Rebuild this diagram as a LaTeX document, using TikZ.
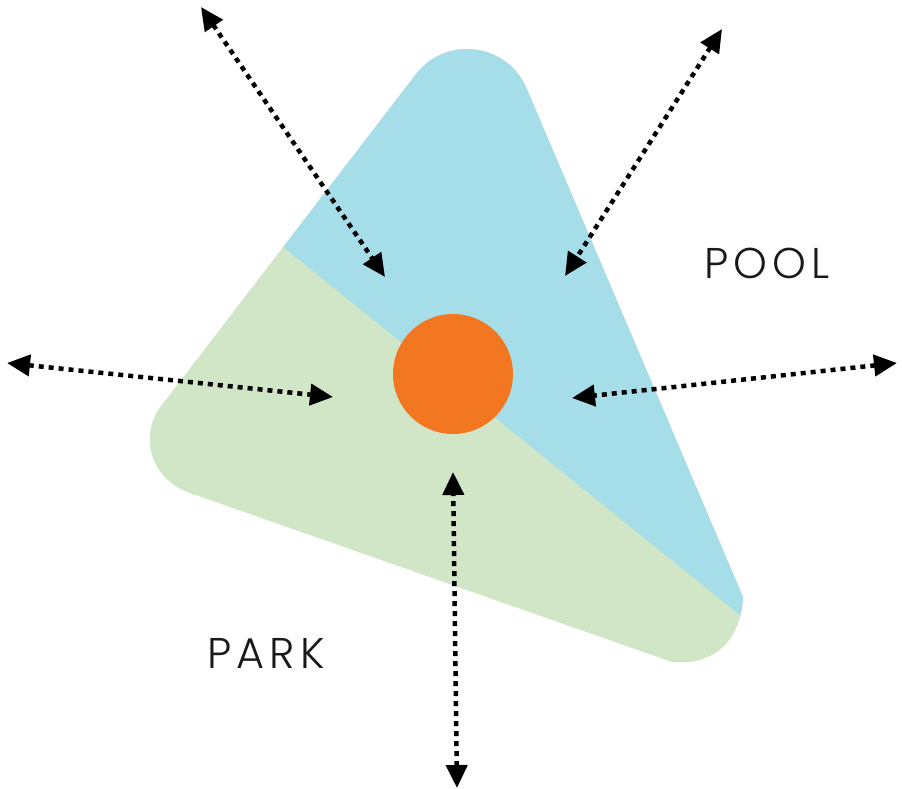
\documentclass[tikz,border=0pt]{standalone}
\usepackage{fontspec}
\newfontfamily\lblfont[LetterSpace=12]{Poppins Light}
\usetikzlibrary{arrows.meta}
\definecolor{poolblue}{RGB}{165,221,233}
\definecolor{parkgreen}{RGB}{208,230,199}
\definecolor{huborange}{RGB}{243,119,33}
\tikzset{
  linkarrow/.style={line width=4.5pt, dash pattern=on 5pt off 5pt,
    {Triangle[length=23pt,width=21pt]}-{Triangle[length=23pt,width=21pt]}},
  zonelabel/.style={font=\lblfont\fontsize{43}{43}\selectfont, anchor=base west, inner sep=0pt, text=black!90},
  hubstyle/.style={circle, fill=huborange, minimum size=120pt, inner sep=0pt},
}
\newcommand{\siteoutline}{(415.9,74.2) .. controls (446.0,35.1) and (507.0,42.8) .. (526.5,88.1)
  -- (743,597) .. controls (741,640) and (715,666) .. (672,662)
  -- (190,493) .. controls (152,480) and (140,440) .. (158,410) -- cycle}
\begin{document}
\begin{tikzpicture}[x=1pt,y=-1pt]
\useasboundingbox (0,0) rectangle (902,789);
\fill[parkgreen] \siteoutline;
\begin{scope}
  \clip \siteoutline;
  \fill[poolblue] (100,99.4) -- (900,744) -- (900,-50) -- (100,-50) -- cycle;
\end{scope}
\node[hubstyle] (hub) at (453,374) {};
\node[zonelabel] (pool) at (704,278) {POOL};
\node[zonelabel] (park) at (207,668) {PARK};
\coordinate (a1) at (201,7);   \coordinate (a2) at (385,277);
\coordinate (b1) at (722,29);  \coordinate (b2) at (565,276);
\coordinate (c1) at (7,363);   \coordinate (c2) at (333,397);
\coordinate (d1) at (897,363); \coordinate (d2) at (572,398);
\coordinate (e1) at (457,788); \coordinate (e2) at (453,472);
\draw[linkarrow] (a1) -- (a2);
\draw[linkarrow] (b1) -- (b2);
\draw[linkarrow] (c1) -- (c2);
\draw[linkarrow] (d1) -- (d2);
\draw[linkarrow] (e1) -- (e2);
\end{tikzpicture}
\end{document}
